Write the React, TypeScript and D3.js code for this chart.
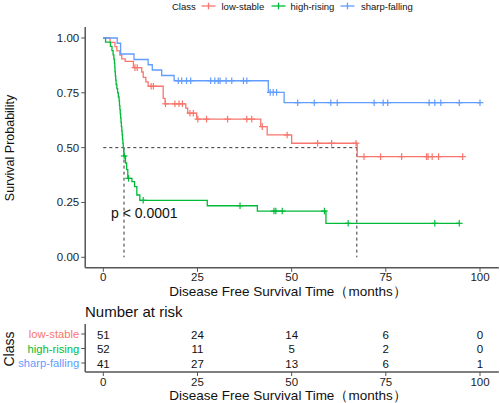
import React from "react";
import * as d3 from "d3";

// ---- data ----
const classes = ["low-stable", "high-rising", "sharp-falling"];
const colors = ["#F8766D", "#00BA38", "#619CFF"];

// step points [time (months), survival after the step]
const lowStableSteps: [number, number][] = [
  [1.8, 0.98], [3.1, 0.961], [3.6, 0.941], [4.4, 0.922], [4.9, 0.905], [5.8, 0.893],
  [8.0, 0.865], [10.2, 0.845], [10.6, 0.82], [11.3, 0.8], [11.9, 0.78],
  [15.9, 0.725], [16.4, 0.7], [21.9, 0.68], [22.4, 0.657], [24.8, 0.63],
  [41.8, 0.596], [43.5, 0.558], [50.0, 0.52], [67.4, 0.459],
];
const lowStableCensor = [8.4, 9.0, 12.7, 13.3, 16.5, 19.0, 20.1, 21.0, 23.0, 23.9, 25.1, 27.4, 33.0, 38.1, 39.4,
  42.2, 48.8, 56.9, 60.6, 67.1, 69.2, 73.6, 79.2, 85.8, 86.2, 87.3, 89.0, 95.4];
const lowStableEnd = 95.4;

const highRisingSteps: [number, number][] = [
  [0.6, 0.981], [1.9, 0.962], [2.3, 0.942], [2.6, 0.923], [2.8, 0.904], [2.95, 0.885],
  [3.05, 0.865], [3.1, 0.846], [3.2, 0.827], [3.3, 0.808], [3.4, 0.788], [3.6, 0.769],
  [3.8, 0.75], [4.0, 0.731], [4.2, 0.712], [4.3, 0.692], [4.4, 0.673], [4.5, 0.654],
  [4.6, 0.635], [4.7, 0.615], [4.8, 0.596], [4.9, 0.577], [5.0, 0.558], [5.1, 0.538],
  [5.2, 0.519], [5.3, 0.5], [5.4, 0.481], [5.5, 0.462], [5.9, 0.43], [6.2, 0.4],
  [6.5, 0.36], [7.6, 0.345], [8.3, 0.322], [8.9, 0.284], [9.7, 0.26],
  [27.6, 0.235], [40.9, 0.211], [59.1, 0.155],
];
const highRisingCensor = [5.55, 6.7, 10.6, 36.3, 45.3, 45.8, 47.5, 58.7, 65.0, 88.0, 94.5];
const highRisingEnd = 94.5;

const sharpFallingSteps: [number, number][] = [
  [3.7, 0.976], [4.6, 0.927], [8.15, 0.902], [11.9, 0.878], [13.0, 0.854],
  [15.5, 0.829], [18.8, 0.805], [43.8, 0.752], [48.0, 0.705],
];
const sharpFallingCensor = [19.9, 20.8, 22.1, 23.2, 28.5, 29.6, 30.5, 31.0, 32.6, 34.1, 37.2, 38.1,
  44.3, 45.1, 46.0, 51.6, 56.0, 60.4, 62.1, 71.9, 74.3, 75.5, 86.5, 88.0, 89.6, 94.5, 100];
const sharpFallingEnd = 100;

const medianTimes = [5.5, 67.3];

const xTicks = [0, 25, 50, 75, 100];
const yTicks = [0, 0.25, 0.5, 0.75, 1];

const riskLowStable = [51, 24, 14, 6, 0];
const riskHighRising = [52, 11, 5, 2, 0];
const riskSharpFalling = [41, 27, 13, 6, 1];

const FONT = "Liberation Sans, Arial, sans-serif";

export default function App() {
  const x = d3.scaleLinear().domain([0, 100]).range([103.3, 480]);
  const y = d3.scaleLinear().domain([0, 1]).range([257.3, 38]);
  const xAxisY = y(-0.048);
  const axisX = x(-4.8);
  const axisRight = x(105);
  const axisTop = y(1.05);

  const series = [
    { steps: lowStableSteps, censor: lowStableCensor, end: lowStableEnd },
    { steps: highRisingSteps, censor: highRisingCensor, end: highRisingEnd },
    { steps: sharpFallingSteps, censor: sharpFallingCensor, end: sharpFallingEnd },
  ];

  const line = d3
    .line<[number, number]>()
    .x((d) => x(d[0]))
    .y((d) => y(d[1]))
    .curve(d3.curveStepAfter);

  const survAt = (steps: [number, number][], t: number) => {
    let s = 1;
    for (const [st, sv] of steps) if (st <= t) s = sv;
    return s;
  };

  const risk = [riskLowStable, riskHighRising, riskSharpFalling];
  const riskRowsY = [334, 348.5, 363];
  const tableAxisY = 372;

  const axisColor = "#555";
  const tickText = "#222";
  const cs = 3.3;

  return (
    <svg
      width={500}
      height={403}
      style={{ position: "absolute", left: 0, top: 0, background: "#fff" }}
      fontFamily={FONT}
    >
      <rect width={500} height={403} fill="#fff" />
      {/* legend */}
      <text x={172} y={9.5} fontSize={9.5} fill="#111">Class</text>
      {[
        { kx: 201.5, tx: 221.5 },
        { kx: 271.5, tx: 290.5 },
        { kx: 340.5, tx: 361 },
      ].map((p, i) => (
        <g key={i}>
          <line x1={p.kx} x2={p.kx + 14} y1={6} y2={6} stroke={colors[i]} strokeWidth={1.3} />
          <line x1={p.kx + 7} x2={p.kx + 7} y1={6 - cs} y2={6 + cs} stroke={colors[i]} strokeWidth={1.3} />
          <text x={p.tx} y={9.5} fontSize={9.5} fill="#111">{classes[i]}</text>
        </g>
      ))}

      {/* median lines */}
      <line x1={x(0)} x2={x(medianTimes[1])} y1={y(0.5)} y2={y(0.5)} stroke="#333" strokeWidth={1} strokeDasharray="3,3" />
      {medianTimes.map((m, i) => (
        <line key={i} x1={x(m)} x2={x(m)} y1={y(0.5)} y2={y(0)} stroke="#333" strokeWidth={1} strokeDasharray="3,3" />
      ))}

      {/* curves */}
      {series.map((s, i) => {
        const pts: [number, number][] = [[0, 1], ...s.steps, [s.end, s.steps[s.steps.length - 1][1]]];
        return (
          <g key={i}>
            <path d={line(pts) || ""} fill="none" stroke={colors[i]} strokeWidth={1.3} />
            {s.censor.map((c, j) => {
              const cx = x(c);
              const cy = y(survAt(s.steps, c));
              return (
                <g key={j} stroke={colors[i]} strokeWidth={1.2}>
                  <line x1={cx - cs} x2={cx + cs} y1={cy} y2={cy} />
                  <line x1={cx} x2={cx} y1={cy - cs} y2={cy + cs} />
                </g>
              );
            })}
          </g>
        );
      })}

      {/* p value */}
      <text x={111} y={218} fontSize={14} fill="#111">p &lt; 0.0001</text>

      {/* axes */}
      <line x1={axisX} x2={axisX} y1={axisTop} y2={xAxisY} stroke={axisColor} strokeWidth={1.5} />
      <line x1={axisX} x2={axisRight} y1={xAxisY} y2={xAxisY} stroke={axisColor} strokeWidth={1.5} />
      {yTicks.map((t) => (
        <g key={t}>
          <line x1={axisX - 4} x2={axisX} y1={y(t)} y2={y(t)} stroke={axisColor} strokeWidth={1} />
          <text x={axisX - 6} y={y(t) + 4} fontSize={11.5} textAnchor="end" fill={tickText}>
            {t.toFixed(2)}
          </text>
        </g>
      ))}
      {xTicks.map((t) => (
        <g key={t}>
          <line x1={x(t)} x2={x(t)} y1={xAxisY} y2={xAxisY + 4} stroke={axisColor} strokeWidth={1} />
          <text x={x(t)} y={281} fontSize={11.5} textAnchor="middle" fill={tickText}>{t}</text>
        </g>
      ))}
      <text x={288} y={296} fontSize={13.5} textAnchor="middle" fill="#111">
        Disease Free Survival Time（months）
      </text>
      <text transform="translate(14,148) rotate(-90)" fontSize={12.5} textAnchor="middle" fill="#111">
        Survival Probability
      </text>

      {/* risk table */}
      <text x={85} y={317} fontSize={15} fill="#111">Number at risk</text>
      <line x1={axisX} x2={axisX} y1={324} y2={tableAxisY} stroke={axisColor} strokeWidth={1.5} />
      <line x1={axisX} x2={axisRight} y1={tableAxisY} y2={tableAxisY} stroke={axisColor} strokeWidth={1.5} />
      {risk.map((row, i) => (
        <g key={i}>
          <line x1={axisX - 4} x2={axisX} y1={riskRowsY[i]} y2={riskRowsY[i]} stroke={axisColor} strokeWidth={1} />
          <text x={axisX - 6} y={riskRowsY[i] + 4} fontSize={11.2} textAnchor="end" fill={colors[i]}>
            {classes[i]}
          </text>
          {row.map((v, j) => (
            <text key={j} x={x(xTicks[j])} y={riskRowsY[i] + 4.5} fontSize={11.5} textAnchor="middle" fill="#111">
              {v}
            </text>
          ))}
        </g>
      ))}
      {xTicks.map((t) => (
        <g key={t}>
          <line x1={x(t)} x2={x(t)} y1={tableAxisY} y2={tableAxisY + 4} stroke={axisColor} strokeWidth={1} />
          <text x={x(t)} y={386} fontSize={11.5} textAnchor="middle" fill={tickText}>{t}</text>
        </g>
      ))}
      <text x={288} y={400} fontSize={13.5} textAnchor="middle" fill="#111">
        Disease Free Survival Time（months）
      </text>
      <text transform="translate(14,349) rotate(-90)" fontSize={14} textAnchor="middle" fill="#111">
        Class
      </text>
    </svg>
  );
}
